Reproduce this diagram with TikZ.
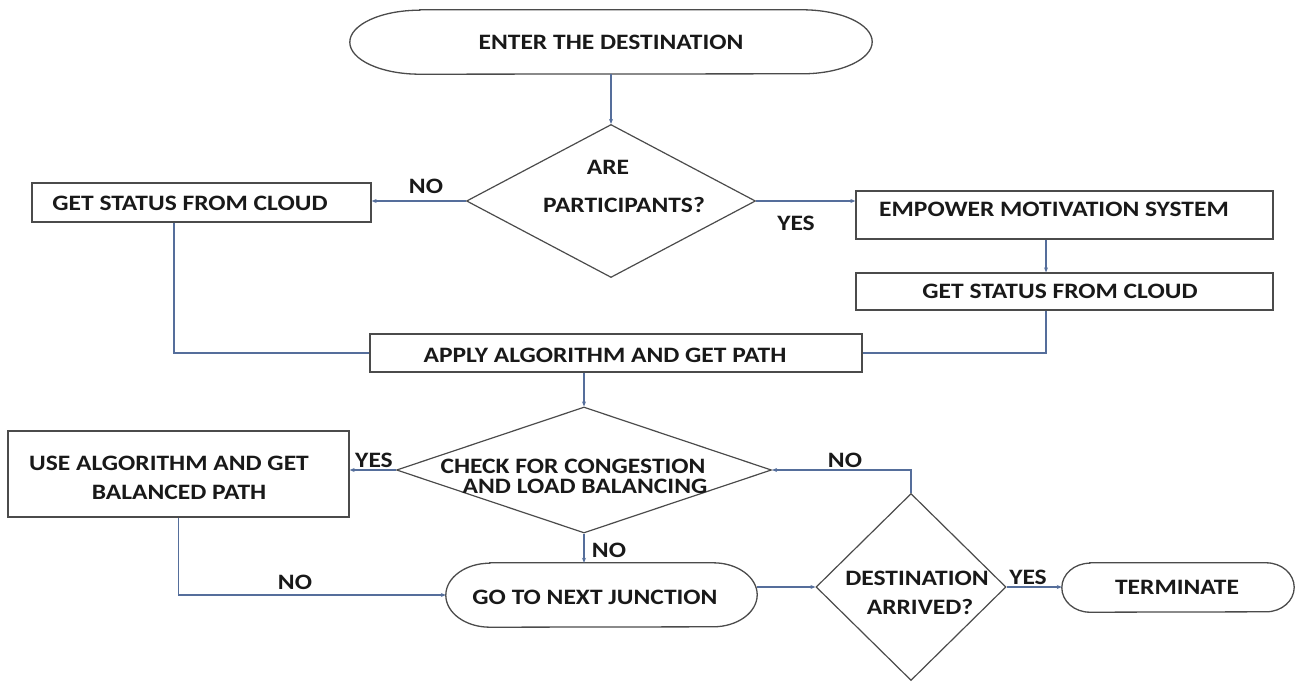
\documentclass[tikz,border=0pt]{standalone}
\usepackage{fontspec}
\setmainfont[FakeStretch=1.16]{Carlito}
\usetikzlibrary{shapes.geometric,arrows.meta,calc}
\definecolor{shapeline}{RGB}{75,75,75}
\definecolor{connblue}{RGB}{85,110,155}
\definecolor{ink}{RGB}{25,25,25}
% stadium outline round a named node: name, end x radius, end y radius
\newcommand\stadiumline[3]{%
  \draw[draw=shapeline,line width=1.3pt]
    ($(#1.north west)+(#2,0)$) -- ($(#1.north east)+(-#2,0)$)
    arc[start angle=-90,end angle=90,x radius=#2,y radius=#3]
    -- ($(#1.south west)+(#2,0)$)
    arc[start angle=90,end angle=270,x radius=#2,y radius=#3] -- cycle;}
\begin{document}
\begin{tikzpicture}[x=1pt,y=-1pt,
  box/.style={draw=shapeline,line width=1.3pt,rectangle,inner sep=0pt},
  dia/.style={draw=shapeline,line width=1.2pt,diamond,inner sep=0pt},
  stad/.style={rectangle,inner sep=0pt,draw=none},
  txt/.style={inner sep=0pt,text=ink,text height=14pt,text depth=0pt,font=\fontsize{22}{24}\selectfont\bfseries},
  link/.style={draw=connblue,line width=1.1pt},
  arr/.style={link,-{Stealth[length=5pt,width=4pt]}},
]
\useasboundingbox (0,0) rectangle (1295,682);
% shapes
\node[stad,minimum width=522pt,minimum height=64pt] (start) at (611,42) {};
\stadiumline{start}{70}{32}
\node[dia,minimum width=289pt,minimum height=153pt] (d1) at (611,201) {};
\node[box,minimum width=339pt,minimum height=39pt] (bL) at (201.5,202.5) {};
\node[box,minimum width=417pt,minimum height=48pt] (bE) at (1064.5,215) {};
\node[box,minimum width=417pt,minimum height=37pt] (bR) at (1064.5,291.5) {};
\node[box,minimum width=492pt,minimum height=38pt] (bA) at (616,353) {};
\node[dia,minimum width=375pt,minimum height=126pt] (d2) at (584,470) {};
\node[box,minimum width=341pt,minimum height=86pt] (bU) at (178.5,474) {};
\node[stad,minimum width=311pt,minimum height=64pt] (go) at (601.5,595) {};
\stadiumline{go}{44}{32}
\node[dia,minimum width=190pt,minimum height=187pt] (d3) at (911,587) {};
\node[stad,minimum width=232pt,minimum height=49pt] (tm) at (1178,587.5) {};
\stadiumline{tm}{28}{24.5}
% texts
\node[txt] (tstart) at (611,43) {ENTER THE DESTINATION};
\node[txt] (td1a) at (608,167) {ARE};
\node[txt] (td1b) at (624,205) {PARTICIPANTS?};
\node[txt] (tbL) at (190,203) {GET STATUS FROM CLOUD};
\node[txt] (tbE) at (1054,209) {EMPOWER MOTIVATION SYSTEM};
\node[txt] (tbR) at (1060,291) {GET STATUS FROM CLOUD};
\node[txt] (tbA) at (605,355) {APPLY ALGORITHM AND GET PATH};
\node[txt] (tbUa) at (169,463) {USE ALGORITHM AND GET};
\node[txt] (tbUb) at (179,492) {BALANCED PATH};
\node[txt] (td2a) at (573,466) {CHECK FOR CONGESTION};
\node[txt] (td2b) at (585,486) {AND LOAD BALANCING};
\node[txt] (tgo) at (595,597) {GO TO NEXT JUNCTION};
\node[txt] (td3a) at (917,578) {DESTINATION};
\node[txt] (td3b) at (920,607) {ARRIVED?};
\node[txt] (ttm) at (1177,587) {TERMINATE};
% labels
\node[txt] (l1) at (426,186) {NO};
\node[txt] (l2) at (796,223) {YES};
\node[txt] (l3) at (374,460) {YES};
\node[txt] (l4) at (609,550) {NO};
\node[txt] (l5) at (295,582) {NO};
\node[txt] (l6) at (1028,577) {YES};
\node[txt] (l7) at (845,460) {NO};
% connectors
\draw[arr] (start.south) -- (d1.north);
\draw[arr] (d1.west) -- (d1.west -| bL.east);
\draw[arr] (d1.east) -- (d1.east -| bE.west);
\draw[arr] ([xshift=-18.5pt]bE.south) -- ([xshift=-18.5pt]bR.north);
\draw[link] ([xshift=-18.5pt]bR.south) |- (bA.east);
\draw[link] ([xshift=-27.5pt]bL.south) |- (bA.west);
\draw[arr] (d2.north |- bA.south) -- (d2.north);
\draw[arr] (d2.west) -- (d2.west -| bU.east);
\draw[arr] (d2.south) -- (d2.south |- go.north);
\draw[arr] (bU.south) |- (go.west);
\draw[arr] (go.east |- d3.west) -- (d3.west);
\draw[arr] (d3.east) -- (d3.east -| tm.west);
\draw[arr] (d3.north) |- (d2.east);
\end{tikzpicture}
\end{document}
